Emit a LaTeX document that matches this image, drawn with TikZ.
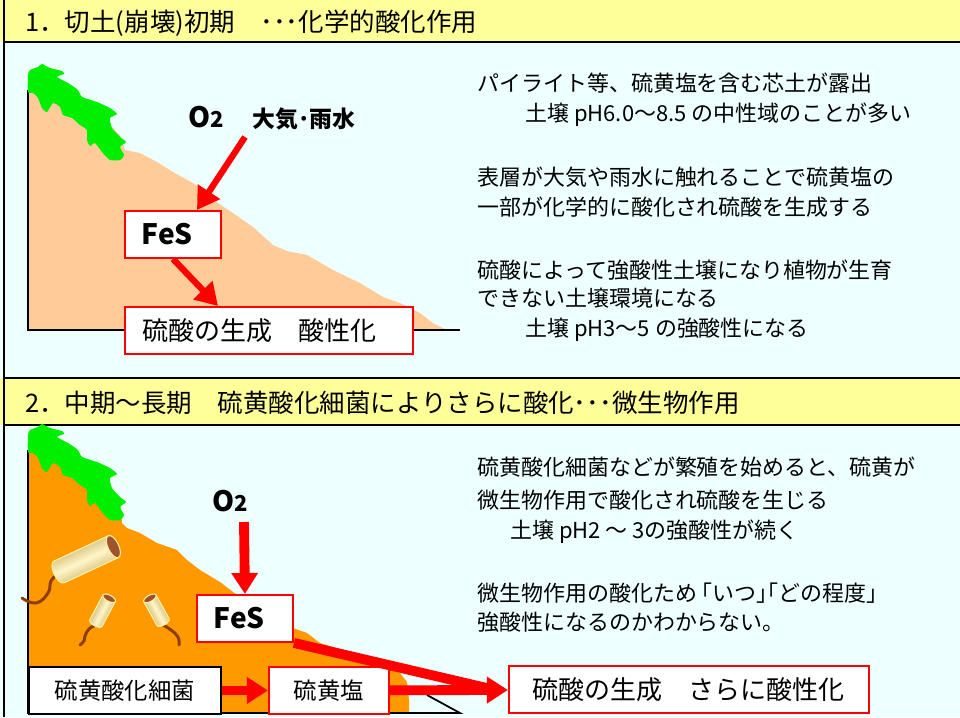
\documentclass[tikz,border=0pt]{standalone}
\usepackage{fontspec}
\setmainfont{Noto Sans CJK JP}
\usetikzlibrary{arrows.meta}
\definecolor{headyellow}{HTML}{FFFF99}
\definecolor{skycyan}{HTML}{EEFFFF}
\definecolor{soilpeach}{HTML}{FFCC99}
\definecolor{soilorange}{HTML}{FF9900}
\definecolor{bushgreen}{HTML}{00EE00}
\definecolor{buglight}{HTML}{FFF6C8}
\definecolor{bugdark}{HTML}{B89848}
\definecolor{bugedge}{HTML}{FFF2A0}
\definecolor{bugcap}{HTML}{A0522D}
\definecolor{tailbrown}{HTML}{8B3E0A}

\begin{document}
\begin{tikzpicture}[x=0.02cm,y=-0.02cm,
    head/.style={font=\fontsize{14.5}{17}\selectfont,anchor=base west,inner sep=0pt},
    body/.style={font=\fontsize{12.5}{15}\selectfont,anchor=base west,inner sep=0pt},
    tag/.style={font=\bfseries\fontsize{13}{15}\selectfont,anchor=base west,inner sep=0pt},
    redbox/.style={draw=red,fill=white,line width=1.1pt,anchor=north west,
      minimum height=0.94cm,inner ysep=0pt,font=\fontsize{14.8}{17}\selectfont},
    fesbox/.style={redbox,font=\bfseries\fontsize{16}{18}\selectfont,
      minimum width=1.92cm,text width=1.24cm,inner xsep=0.34cm,align=left},
    thin/.style={red,line width=3.6pt,-{Triangle[length=12.5pt,width=14.5pt]}},
    fat/.style={red,line width=5.6pt,-{Triangle[length=12pt,width=14.5pt]}},
    flagellum/.style={tailbrown,line width=1.7pt,line cap=round},
    pics/bush/.style={code={
      \fill[bushgreen] plot[smooth cycle,tension=0.35] coordinates {
        (28,75) (30,70) (38,67) (42,64) (50,68) (62,71) (64,74) (57,77)
        (68,83) (78,90) (82,97) (97,102) (110,108) (117,114) (110,118)
        (112,128) (120,137) (126,142) (120,147) (124,155) (120,160)
        (110,160) (102,152) (95,143) (90,146) (87,140) (87,130) (80,125)
        (72,118) (63,115) (60,107) (53,103) (47,112) (42,108) (38,98)
        (33,93) (28,92)};
    }},
    pics/bug/.style n args={3}{code={
      \begin{scope}[rotate=#3]
        \path[draw=bugedge,line width=0.6pt,top color=bugdark,bottom color=bugdark,
          middle color=buglight,shading angle=#3]
          (0,-#2) -- (#1,-#2) -- (#1,#2) -- (0,#2)
          arc[start angle=90,end angle=270,x radius=0.45*#2,y radius=#2] -- cycle;
        \filldraw[fill=bugcap,draw=bugedge,line width=0.6pt]
          (#1,0) ellipse[x radius=0.45*#2,y radius=#2];
      \end{scope}
    }}]

  \useasboundingbox (0,0) rectangle (960,717);

  % panels and title bands
  \fill[skycyan] (0,0) rectangle (960,717);
  \fill[headyellow] (0,0) rectangle (960,42);
  \fill[headyellow] (0,378) rectangle (960,425);
  \draw[line width=1.2pt] (4,0) -- (4,717);
  \draw[line width=1.2pt] (4,42) -- (960,42);
  \draw[line width=1.2pt] (4,378) -- (960,378);
  \draw[line width=1.2pt] (4,425) -- (960,425);
  \node[head] (title1) at (25,31) {1．切土(崩壊)初期　･･･化学的酸化作用};
  \node[head] (title2) at (25,412) {2．中期～長期　硫黄酸化細菌によりさらに酸化･･･微生物作用};

  % 1. cut slope, fresh soil
  \fill[soilpeach] (28,88) -- (60,95) -- (100,115) -- (120,135) -- (125,150)
    -- (140,153) -- (157,162) -- (173,172) -- (193,183) -- (200,188)
    -- (213,200) -- (233,213) -- (253,227) -- (273,245) -- (287,251)
    -- (307,255) -- (333,270) -- (360,283) -- (383,297) -- (400,303)
    -- (420,313) -- (433,323) -- (445,329) -- (445,330) -- (28,330) -- cycle;
  \draw[line width=1pt] (28,90) -- (28,330) -- (460,330);
  \pic at (0,0) {bush};

  \node[font=\bfseries\fontsize{16}{18}\selectfont,anchor=base west,inner sep=0pt]
    (o2a) at (188,127) {O{\fontsize{12.5}{14}\selectfont 2}};
  \node[tag] (air) at (252,127) {大気･雨水};
  \coordinate (rain) at (245,137);

  \node[fesbox] (fes1) at (124,210) {FeS};
  \node[redbox,minimum width=5.76cm,text width=5.04cm,inner xsep=0.36cm,align=left]
    (acid1) at (124,306) {硫酸の生成　酸性化};
  \draw[thin] (rain) -- ([xshift=1.46cm]fes1.north west);
  \draw[thin] (fes1.south) -- ([xshift=1.88cm]acid1.north west);

  \node[body] (p1a) at (477,91) {パイライト等、硫黄塩を含む芯土が露出};
  \node[body] (p1b) at (525,121) {土壌 pH6.0～8.5 の中性域のことが多い};
  \node[body] (p1c) at (477,185) {表層が大気や雨水に触れることで硫黄塩の};
  \node[body] (p1d) at (477,215) {一部が化学的に酸化され硫酸を生成する};
  \node[body] (p1e) at (477,278) {硫酸によって強酸性土壌になり植物が生育};
  \node[body] (p1f) at (477,306) {できない土壌環境になる};
  \node[body] (p1g) at (525,336) {土壌 pH3～5 の強酸性になる};

  % 2. weathered slope with bacteria
  \fill[soilorange] (28,450) -- (60,462) -- (100,480) -- (120,500) -- (122,523)
    -- (127,528) -- (140,533) -- (157,543) -- (177,550) -- (187,560)
    -- (200,570) -- (220,582) -- (233,592) -- (260,610) -- (293,628)
    -- (307,633) -- (320,643) -- (333,647) -- (350,653) -- (367,660)
    -- (387,667) -- (400,673) -- (407,682) -- (409,700) -- (409,713)
    -- (28,713) -- cycle;
  \draw[line width=1pt] (28,450) -- (28,713) -- (460,713) -- (427,695);
  \pic at (0,360) {bush};

  \draw[flagellum] plot[smooth,tension=0.8] coordinates
    {(58,574) (51,581) (48,593) (36,603) (22,598)};
  \pic at (59,572) {bug={60}{12}{25}};
  \draw[flagellum] plot[smooth,tension=0.8] coordinates
    {(96,625) (89,629) (85,636) (84,641) (80,645)};
  \pic at (96,623) {bug={28}{7}{62}};
  \draw[flagellum] plot[smooth,tension=0.8] coordinates
    {(163,625) (171,630) (178,637) (179,645)};
  \pic at (163,622) {bug={27}{7}{119}};

  \node[font=\bfseries\fontsize{16}{18}\selectfont,anchor=base west,inner sep=0pt]
    (o2b) at (212,511) {O{\fontsize{12.5}{14}\selectfont 2}};
  \coordinate (down) at (244,522);

  \node[fesbox] (fes2) at (196,594) {FeS};
  \node[anchor=north west,draw,fill=white,line width=1.1pt,minimum width=3.84cm,
    minimum height=0.94cm,inner ysep=0pt,font=\fontsize{13.3}{16}\selectfont]
    (bact) at (28,666) {硫黄酸化細菌};
  \node[redbox,minimum width=2.4cm,font=\fontsize{13.3}{16}\selectfont]
    (salt) at (268,666) {硫黄塩};
  \node[redbox,minimum width=7.2cm] (acid2) at (508,665) {硫酸の生成　さらに酸性化};

  \draw[red,line width=5.6pt] (fes2.south east) -- ([xshift=-0.3cm]acid2.west);
  \draw[fat] (down) -- (fes2.north);
  \draw[fat] (bact) -- (salt);
  \draw[fat] (salt) -- (acid2);

  \node[body] (p2a) at (477,475) {硫黄酸化細菌などが繁殖を始めると、硫黄が};
  \node[body] (p2b) at (477,508) {微生物作用で酸化され硫酸を生じる};
  \node[body] (p2c) at (510,538) {土壌 pH2 ～ 3の強酸性が続く};
  \node[body] (p2d) at (477,601) {微生物作用の酸化ため ｢いつ｣｢どの程度｣};
  \node[body] (p2e) at (477,630) {強酸性になるのかわからない。};
\end{tikzpicture}
\end{document}
